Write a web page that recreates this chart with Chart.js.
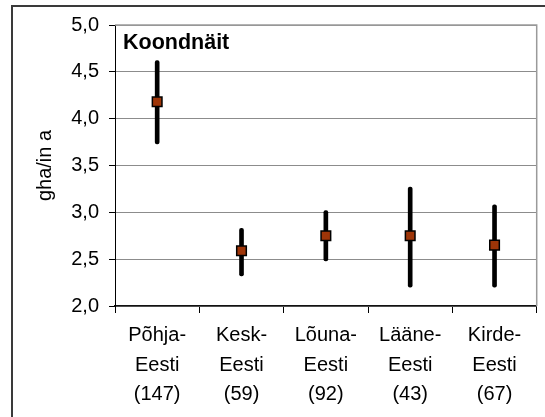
<!DOCTYPE html>
<html>
<head>
<meta charset="utf-8">
<script src="https://cdn.jsdelivr.net/npm/chart.js@4/dist/chart.umd.min.js"></script>
<style>
  html, body { margin: 0; padding: 0; background: #fff; }
  canvas { display: block; }
</style>
</head>
<body>
<canvas id="chart" width="545" height="417"></canvas>
<script>
// Regions and sample sizes shown under each category
const regionNames = ['Põhja', 'Kesk', 'Lõuna', 'Lääne', 'Kirde'];
const sampleSizes = [147, 59, 92, 43, 67];

// Mean footprint and its interval (gha per person)
const meanValues  = [4.18, 2.59, 2.75, 2.75, 2.65];
const lowerBounds = [3.73, 2.32, 2.48, 2.20, 2.20];
const upperBounds = [4.62, 2.83, 3.02, 3.27, 3.08];

// Y axis tick labels, from 2,0 to 5,0
const yTickValues = [2.0, 2.5, 3.0, 3.5, 4.0, 4.5, 5.0];
const yTickLabels = ['2,0', '2,5', '3,0', '3,5', '4,0', '4,5', '5,0'];

const chartTitle = 'Koondnäit';
const yAxisTitle = 'gha/in a';

const FONT = "'Liberation Sans', Arial, sans-serif";

const categoryLabels = regionNames.map((name, i) => [name + '-', 'Eesti', '(' + sampleSizes[i] + ')']);
const intervals = lowerBounds.map((lo, i) => [lo, upperBounds[i]]);

// White background, outer frame, plot frame and the inner title
const framePlugin = {
  id: 'frame',
  beforeDraw(chart) {
    const ctx = chart.ctx;
    ctx.save();
    ctx.fillStyle = '#ffffff';
    ctx.fillRect(0, 0, chart.width, chart.height);
    ctx.strokeStyle = '#3a3a3a';
    ctx.lineWidth = 2;
    ctx.beginPath();
    ctx.moveTo(12, chart.height);
    ctx.lineTo(12, 6);
    ctx.lineTo(chart.width, 6);
    ctx.stroke();
    ctx.restore();
  },
  afterDraw(chart) {
    const ctx = chart.ctx;
    const a = chart.chartArea;
    ctx.save();
    ctx.strokeStyle = '#9a9a9a';
    ctx.lineWidth = 1.5;
    ctx.beginPath();
    ctx.moveTo(a.left, a.top);
    ctx.lineTo(a.right, a.top);
    ctx.lineTo(a.right, a.bottom);
    ctx.stroke();
    ctx.fillStyle = '#000000';
    ctx.font = 'bold 21.5px ' + FONT;
    ctx.textAlign = 'left';
    ctx.textBaseline = 'alphabetic';
    ctx.fillText(chartTitle, a.left + 8, a.top + 24);
    ctx.restore();
  }
};

new Chart(document.getElementById('chart'), {
  type: 'bar',
  data: {
    labels: categoryLabels,
    datasets: [
      {
        type: 'line',
        label: 'Keskmine',
        data: meanValues,
        showLine: false,
        pointStyle: 'rect',
        pointRadius: 6.8,
        pointBackgroundColor: '#9e3508',
        pointBorderColor: '#000000',
        pointBorderWidth: 1.5,
        order: 0
      },
      {
        type: 'bar',
        label: 'Vahemik',
        data: intervals,
        backgroundColor: '#000000',
        barThickness: 4,
        borderRadius: 2,
        borderSkipped: false,
        order: 1
      }
    ]
  },
  options: {
    responsive: false,
    animation: false,
    layout: { padding: { left: 0, top: 25, right: 7, bottom: 0 } },
    plugins: {
      legend: { display: false },
      tooltip: { enabled: false }
    },
    scales: {
      x: {
        offset: true,
        grid: {
          offset: true,
          drawOnChartArea: false,
          drawTicks: true,
          tickLength: 7,
          tickColor: '#000000',
          tickWidth: 1
        },
        border: { display: true, color: '#111111', width: 1.5 },
        ticks: {
          color: '#000000',
          padding: 8,
          maxRotation: 0,
          autoSkip: false,
          font: { family: FONT, size: 20, lineHeight: 1.47 }
        },
        afterFit(scale) { scale.height = 111; }
      },
      y: {
        min: 2,
        max: 5,
        afterBuildTicks(scale) {
          scale.ticks = yTickValues.map(v => ({ value: v }));
        },
        grid: {
          color: '#8c8c8c',
          lineWidth: 1,
          drawTicks: true,
          tickLength: 6,
          tickColor: '#000000'
        },
        border: { display: true, color: '#000000', width: 1 },
        ticks: {
          color: '#000000',
          padding: 10,
          font: { family: FONT, size: 20 },
          callback(value, index) { return yTickLabels[index]; }
        },
        title: {
          display: true,
          text: yAxisTitle,
          color: '#000000',
          padding: { top: 33, bottom: 0 },
          font: { family: FONT, size: 20 }
        },
        afterFit(scale) { scale.width = 115; }
      }
    }
  },
  plugins: [framePlugin]
});
</script>
</body>
</html>
